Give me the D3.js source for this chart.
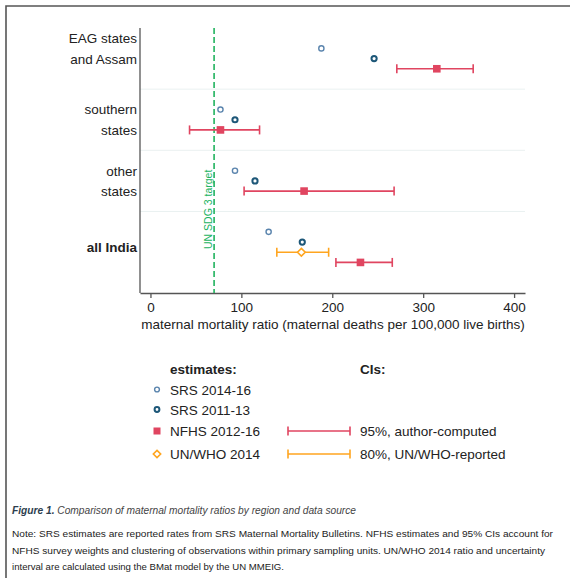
<!DOCTYPE html>
<html>
<head>
<meta charset="utf-8">
<script src="https://cdn.jsdelivr.net/npm/d3@7"></script>
<style>
  body { margin: 0; background: #fff; }
  svg { display: block; font-family: "Liberation Sans", Arial, sans-serif; }
</style>
</head>
<body>
<svg id="chart" width="570" height="578"></svg>
<script>
// groups, top to bottom
const groups = ["EAG states and Assam", "southern states", "other states", "all India"];
const groupLabels = [["EAG states", "and Assam"], ["southern", "states"], ["other", "states"], ["all India"]];
const groupLabelRow = [0, 7, 13, 19.5];

// estimates per group (null = not shown)
const srs1416 = [188, 77, 93, 130];
const srs1113 = [246, 93, 115, 167];
const nfhs = [315, 77, 169, 231];
const nfhsLo = [271, 43, 103, 204];
const nfhsHi = [355, 120, 268, 266];
const unwho = [null, null, null, 166];
const unwhoLo = [null, null, null, 139];
const unwhoHi = [null, null, null, 196];

// row index of each series within the plot
const rowSrs1416 = [0, 6, 12, 18];
const rowSrs1113 = [1, 7, 13, 19];
const rowNfhs = [2, 8, 14, 21];
const rowUn = [null, null, null, 20];
const separators = [4, 10, 16];

const sdgTarget = 70;
const xTicks = [0, 100, 200, 300, 400];

const colLight = "#5a84ad";
const colDark = "#1d5778";
const colRed = "#e04560";
const colOrange = "#ffa51f";
const colGreen = "#21b35f";

const svg = d3.select("#chart");

// outer frame
svg.append("path")
  .attr("d", "M6,578 V6 H570")
  .attr("fill", "none").attr("stroke", "#555").attr("stroke-width", 1.6);

const x = d3.scaleLinear().domain([-11.5, 412]).range([140, 525]);
const y = d3.scaleLinear().domain([-2, 24]).range([28, 293]);

// separators
svg.append("g").selectAll("line").data(separators).join("line")
  .attr("x1", 140).attr("x2", 525)
  .attr("y1", d => y(d)).attr("y2", d => y(d))
  .attr("stroke", "#eaf1f1").attr("stroke-width", 1);

// axes
const xAxis = svg.append("g").attr("transform", `translate(0,${y(24)})`)
  .call(d3.axisBottom(x).tickValues(xTicks).tickSize(5).tickPadding(4).tickSizeOuter(0));
xAxis.select(".domain").attr("stroke", "#555").attr("stroke-width", 1.3);
xAxis.selectAll(".tick line").attr("stroke", "#555").attr("stroke-width", 1.3);
xAxis.selectAll(".tick text").attr("font-size", 13.5).attr("fill", "#222")
  .attr("font-family", "Liberation Sans, Arial, sans-serif");

svg.append("line")
  .attr("x1", 140).attr("x2", 140).attr("y1", y(-2)).attr("y2", y(24))
  .attr("stroke", "#555").attr("stroke-width", 1.3);

svg.append("text")
  .attr("x", 333).attr("y", 328.5).attr("text-anchor", "middle")
  .attr("font-size", 13.5).attr("fill", "#222")
  .text("maternal mortality ratio (maternal deaths per 100,000 live births)");

// group labels
groupLabels.forEach((lines, i) => {
  const t = svg.append("text")
    .attr("text-anchor", "end").attr("font-size", 13.5).attr("fill", "#222")
    .attr("font-weight", i === 3 ? "bold" : "normal");
  const n = lines.length;
  lines.forEach((s, j) => {
    t.append("tspan").attr("x", 137)
      .attr("y", y(groupLabelRow[i]) + 5 + (j - (n - 1) / 2) * 20.5)
      .text(s);
  });
});

// SDG target line
svg.append("line")
  .attr("x1", x(sdgTarget)).attr("x2", x(sdgTarget))
  .attr("y1", y(-2)).attr("y2", y(24))
  .attr("stroke", colGreen).attr("stroke-width", 1.6)
  .attr("stroke-dasharray", "6,3");
svg.append("text")
  .attr("transform", `translate(${x(sdgTarget) - 2},249) rotate(-90)`)
  .attr("font-size", 10.5).attr("fill", colGreen)
  .text("UN SDG 3 target");

// CI bars
function ciBar(g, lo, hi, yy, col) {
  g.append("line").attr("x1", lo).attr("x2", hi).attr("y1", yy).attr("y2", yy)
    .attr("stroke", col).attr("stroke-width", 1.6);
  [lo, hi].forEach(v => g.append("line").attr("x1", v).attr("x2", v)
    .attr("y1", yy - 4.5).attr("y2", yy + 4.5).attr("stroke", col).attr("stroke-width", 1.6));
}

const marks = svg.append("g");
groups.forEach((g, i) => {
  ciBar(marks, x(nfhsLo[i]), x(nfhsHi[i]), y(rowNfhs[i]), colRed);
  if (unwho[i] !== null) ciBar(marks, x(unwhoLo[i]), x(unwhoHi[i]), y(rowUn[i]), colOrange);
});

marks.selectAll("circle.s1").data(srs1416).join("circle")
  .attr("cx", d => x(d)).attr("cy", (d, i) => y(rowSrs1416[i])).attr("r", 2.6)
  .attr("fill", "#fff").attr("stroke", colLight).attr("stroke-width", 1.4);
marks.selectAll("circle.s2").data(srs1113).join("circle")
  .attr("cx", d => x(d)).attr("cy", (d, i) => y(rowSrs1113[i])).attr("r", 2.6)
  .attr("fill", "#fff").attr("stroke", colDark).attr("stroke-width", 2);
marks.selectAll("rect.nf").data(nfhs).join("rect")
  .attr("x", d => x(d) - 3.8).attr("y", (d, i) => y(rowNfhs[i]) - 3.8)
  .attr("width", 7.6).attr("height", 7.6).attr("fill", colRed);
unwho.forEach((d, i) => {
  if (d === null) return;
  marks.append("path")
    .attr("d", d3.symbol(d3.symbolDiamond2, 38)())
    .attr("transform", `translate(${x(d)},${y(rowUn[i])})`)
    .attr("fill", "#fff").attr("stroke", colOrange).attr("stroke-width", 1.6);
});

// legend
const legendNames = ["SRS 2014-16", "SRS 2011-13", "NFHS 2012-16", "UN/WHO 2014"];
const legendY = [389.5, 409.5, 431, 454];
const ciNames = [null, null, "95%, author-computed", "80%, UN/WHO-reported"];

const lg = svg.append("g").attr("font-size", 13.5).attr("fill", "#222");
lg.append("text").attr("x", 170).attr("y", 374).attr("font-weight", "bold").text("estimates:");
lg.append("text").attr("x", 360).attr("y", 374).attr("font-weight", "bold").text("CIs:");
legendNames.forEach((s, i) => {
  lg.append("text").attr("x", 170).attr("y", legendY[i] + 5).text(s);
  if (ciNames[i]) lg.append("text").attr("x", 360).attr("y", legendY[i] + 5).text(ciNames[i]);
});
lg.append("circle").attr("cx", 157).attr("cy", legendY[0]).attr("r", 2.4)
  .attr("fill", "#fff").attr("stroke", colLight).attr("stroke-width", 1.4);
lg.append("circle").attr("cx", 157).attr("cy", legendY[1]).attr("r", 2.4)
  .attr("fill", "#fff").attr("stroke", colDark).attr("stroke-width", 2);
lg.append("rect").attr("x", 153.5).attr("y", legendY[2] - 3.5).attr("width", 7).attr("height", 7)
  .attr("fill", colRed);
lg.append("path").attr("d", d3.symbol(d3.symbolDiamond2, 34)())
  .attr("transform", `translate(157,${legendY[3]})`)
  .attr("fill", "#fff").attr("stroke", colOrange).attr("stroke-width", 1.6);
ciBar(lg, 288, 350, legendY[2], colRed);
ciBar(lg, 288, 350, legendY[3], colOrange);

// caption and note
const capFont = "'Liberation Sans', Arial, sans-serif";
const cap = svg.append("text").attr("x", 12).attr("y", 514)
  .attr("font-size", 10).attr("font-style", "italic").attr("fill", "#444")
  .attr("font-family", capFont)
  .attr("textLength", 344).attr("lengthAdjust", "spacingAndGlyphs");
cap.append("tspan").attr("font-weight", "bold").attr("fill", "#2d3e4e").text("Figure 1.");
cap.append("tspan").text(" Comparison of maternal mortality ratios by region and data source");

const noteLines = [
  "Note: SRS estimates are reported rates from SRS Maternal Mortality Bulletins. NFHS estimates and 95% CIs account for",
  "NFHS survey weights and clustering of observations within primary sampling units. UN/WHO 2014 ratio and uncertainty",
  "interval are calculated using the BMat model by the UN MMEIG."
];
const noteWidths = [541, 533, 272];
noteLines.forEach((s, i) => {
  svg.append("text").attr("x", 12).attr("y", 537 + i * 16.5)
    .attr("font-size", 9.4).attr("fill", "#222")
    .attr("font-family", capFont)
    .attr("textLength", noteWidths[i]).attr("lengthAdjust", "spacingAndGlyphs")
    .text(s);
});
</script>
</body>
</html>
